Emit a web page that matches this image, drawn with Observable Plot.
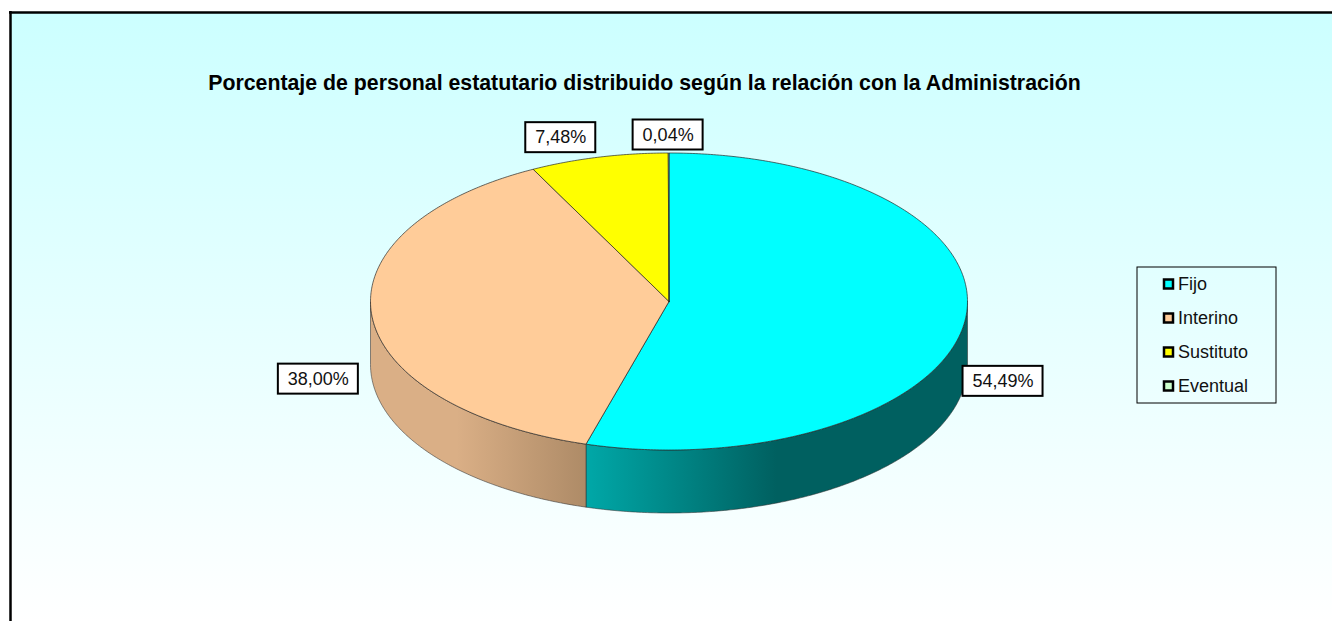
<!DOCTYPE html>
<html>
<head>
<meta charset="utf-8">
<style>html,body{margin:0;padding:0;background:#fff;overflow:hidden}svg{display:block}</style>
<script src="https://cdn.jsdelivr.net/npm/d3@7"></script>
<script src="https://cdn.jsdelivr.net/npm/@observablehq/plot@0.6"></script>
</head>
<body>
<div id="chart"></div>
<script>
const titleText = "Porcentaje de personal estatutario distribuido según la relación con la Administración";
const categories = ["Fijo", "Interino", "Sustituto", "Eventual"];
const percentages = [54.49, 38.00, 7.48, 0.04];
const valueLabels = ["54,49%", "38,00%", "7,48%", "0,04%"];

// Styling and layout (kept apart from the data)
const topColors = ["#00FFFF", "#FFCC99", "#FFFF00", "#CCFFCC"];
const W = 1332, H = 621;
const cx = 668.5, cy = 301, rx = 298.5, ry = 148.5, depth = 63;
const labelOffsets = [[38.5, 59], [-53.5, 63.5], [-38, -19.5], [-0.5, -18]]; // box centre relative to slice rim midpoint
const legendY = [284, 318, 352, 386];

const total = d3.sum(percentages);
const cum = d3.cumsum(percentages);
const angle = v => v / total * 2 * Math.PI;
const slices = categories.map((name, i) => ({
  name,
  a0: angle(i ? cum[i - 1] : 0),
  a1: angle(cum[i]),
  label: valueLabels[i],
  off: labelOffsets[i]
}));
const px = a => cx + rx * Math.sin(a);
const py = (a, d = 0) => cy - ry * Math.cos(a) + d;
function arc(a0, a1, d = 0) {
  const n = Math.max(2, Math.ceil((a1 - a0) / 0.01));
  return d3.range(n + 1).map(k => {
    const a = a0 + (a1 - a0) * k / n;
    return {x: px(a), y: py(a, d)};
  });
}
const topPts = slices.flatMap(s => {
  const ring = [{x: cx, y: cy}, ...arc(s.a0, s.a1), {x: cx, y: cy}];
  return ring.map(p => ({...p, name: s.name}));
});
const wallPts = slices.flatMap(s => {
  const a0 = Math.max(s.a0, Math.PI / 2), a1 = Math.min(s.a1, 3 * Math.PI / 2);
  if (a1 <= a0) return [];
  const ring = [...arc(a0, a1), ...arc(a0, a1, depth).reverse()];
  ring.push(ring[0]);
  return ring.map(p => ({...p, name: s.name}));
});
const labelData = slices.map(s => {
  const m = (s.a0 + s.a1) / 2;
  return {
    cxl: px(m) + s.off[0],
    cyl: py(m) + s.off[1],
    label: s.label,
    w: s.label.length === 6 ? 80 : 70,
    h: 30
  };
});
const legendData = categories.map((name, i) => ({name, y: legendY[i]}));

const defs = () => {
  const svgNS = "http://www.w3.org/2000/svg";
  const d = document.createElementNS(svgNS, "defs");
  d.innerHTML = `
    <linearGradient id="bg" x1="0" y1="0" x2="0" y2="1">
      <stop offset="0" stop-color="#CCFFFF"/><stop offset="1" stop-color="#FFFFFF"/>
    </linearGradient>
    <linearGradient id="wall0" gradientUnits="userSpaceOnUse" x1="585" y1="0" x2="967" y2="0">
      <stop offset="0" stop-color="#00A8A8"/><stop offset="0.5" stop-color="#006060"/><stop offset="1" stop-color="#006060"/>
    </linearGradient>
    <linearGradient id="wall1" gradientUnits="userSpaceOnUse" x1="370" y1="0" x2="585" y2="0">
      <stop offset="0" stop-color="#DAAF86"/><stop offset="0.4" stop-color="#DAAF86"/><stop offset="1" stop-color="#AE8B67"/>
    </linearGradient>`;
  return d;
};

const chart = Plot.plot({
  width: W, height: H,
  margin: 0,
  x: {domain: [0, W], range: [0, W], axis: null},
  y: {domain: [0, H], range: [0, H], axis: null},
  color: {domain: categories, range: topColors},
  style: {fontFamily: "'Liberation Sans', Arial, sans-serif", background: "#fff", color: "#000"},
  marks: [
    defs,
    Plot.rect([{}], {x1: () => 10, x2: () => W, y1: () => 12, y2: () => H, fill: "url(#bg)"}),
    Plot.ruleY([12], {x1: 9, x2: W, stroke: "#000", strokeWidth: 2.5}),
    Plot.ruleX([10], {y1: 11, y2: H, stroke: "#000", strokeWidth: 2.5}),
    Plot.text([titleText], {x: () => 644, y: () => 83, text: d => d, fontSize: 21.3, fontWeight: "bold", fill: "#000"}),
    // side wall
    Plot.line(wallPts.filter(d => d.name === "Fijo"), {x: "x", y: "y", fill: "url(#wall0)", stroke: "#333", strokeWidth: 0.7, strokeOpacity: 0.8}),
    Plot.line(wallPts.filter(d => d.name === "Interino"), {x: "x", y: "y", fill: "url(#wall1)", stroke: "#333", strokeWidth: 0.7, strokeOpacity: 0.8}),
    // top face
    Plot.line(topPts, {x: "x", y: "y", z: "name", fill: "name", stroke: "#222", strokeWidth: 0.8, strokeOpacity: 0.85}),
    // value labels
    Plot.rect(labelData, {x1: d => d.cxl - d.w / 2, x2: d => d.cxl + d.w / 2, y1: d => d.cyl - d.h / 2, y2: d => d.cyl + d.h / 2, fill: "#fff", stroke: "#000", strokeWidth: 2}),
    Plot.text(labelData, {x: "cxl", y: "cyl", text: "label", fontSize: 18, fill: "#111"}),
    // legend
    Plot.rect([{}], {x1: () => 1137, x2: () => 1276, y1: () => 267, y2: () => 403, fill: "none", stroke: "#000", strokeWidth: 1}),
    Plot.rect(legendData, {x1: () => 1164, x2: () => 1173, y1: d => d.y - 4.5, y2: d => d.y + 4.5, fill: "name", stroke: "#000", strokeWidth: 2.5}),
    Plot.text(legendData, {x: () => 1177.5, y: "y", text: "name", textAnchor: "start", fontSize: 18, fill: "#111"})
  ]
});
document.getElementById("chart").appendChild(chart);
</script>
</body>
</html>
